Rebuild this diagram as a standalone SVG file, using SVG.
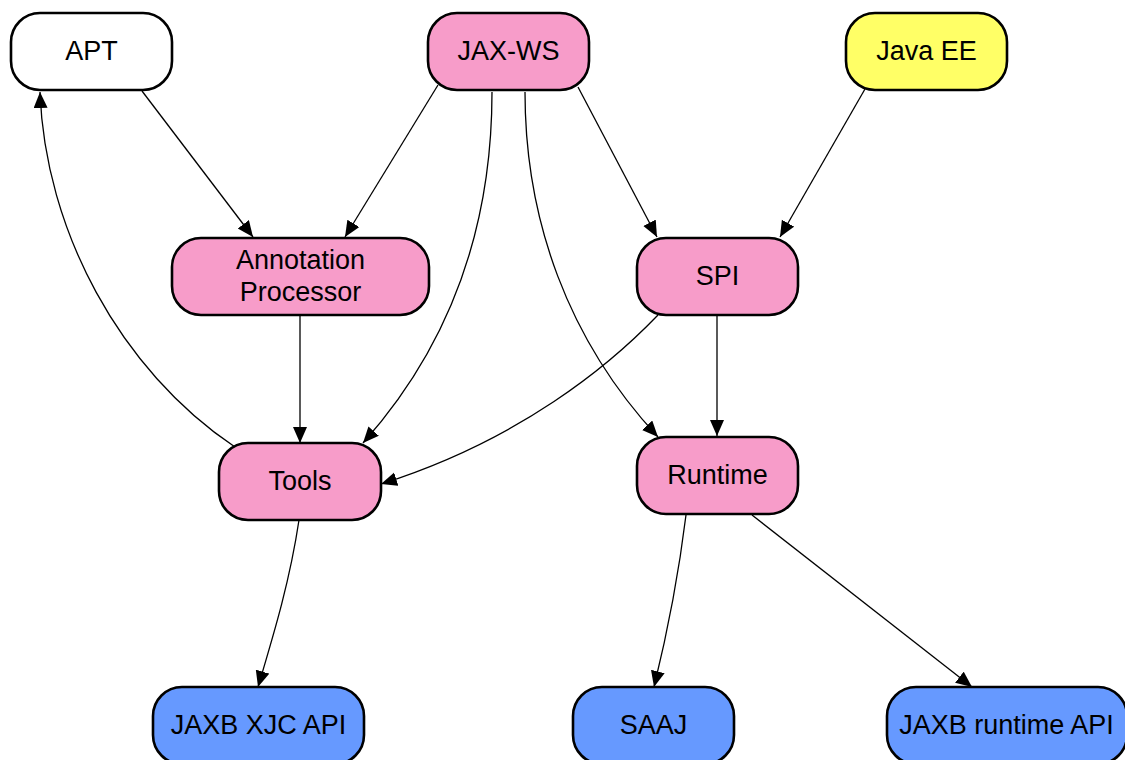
<svg xmlns="http://www.w3.org/2000/svg" width="1125" height="760" viewBox="0 0 1125 760">
<style>
.n rect{stroke:#000;stroke-width:2.6}
.w{fill:#fff}.p{fill:#F79CC9}.y{fill:#FFFF66}.b{fill:#6699FF}
text{font-family:"Liberation Sans",Arial,sans-serif;font-size:27px;fill:#000;text-anchor:middle}
.e path{fill:none;stroke:#000;stroke-width:1.3;marker-end:url(#a)}
</style>
<defs>
<marker id="a" markerUnits="userSpaceOnUse" markerWidth="17" markerHeight="15" refX="16" refY="7" orient="auto">
<path d="M0,0 L16,7 L0,14 Z" fill="#000"/>
</marker>
</defs>
<rect width="1125" height="760" fill="#fff"/>
<g class="e">
<path d="M142,91 L253,237"/>
<path d="M438,85 L345,237"/>
<path d="M492,92 C492,220 455,340 363,443"/>
<path d="M525,92 C525,220 568,340 658,437"/>
<path d="M578,87 L657,237"/>
<path d="M865,89 L780,237"/>
<path d="M300,315 L300,443"/>
<path d="M658,315 C610,365 520,440 381,484"/>
<path d="M717,315 L717,436"/>
<path d="M235,447 C120,370 45,230 40,92"/>
<path d="M299,520 C290,580 275,630 258,687"/>
<path d="M686,515 C678,580 668,630 654,687"/>
<path d="M752,515 L972,687"/>
</g>
<g id="apt" class="n"><rect class="w" x="11" y="13" width="161" height="77" rx="29"/><text x="91.5" y="60">APT</text></g>
<g id="jaxws" class="n"><rect class="p" x="428" y="13" width="161" height="77" rx="29"/><text x="508.5" y="60">JAX-WS</text></g>
<g id="javaee" class="n"><rect class="y" x="846" y="13" width="161" height="77" rx="29"/><text x="926.5" y="60">Java EE</text></g>
<g id="annotation" class="n"><rect class="p" x="172" y="238" width="257" height="77" rx="29"/><text x="300.5" y="269">Annotation</text><text x="300.5" y="301">Processor</text></g>
<g id="spi" class="n"><rect class="p" x="637" y="238" width="161" height="77" rx="29"/><text x="717.5" y="285">SPI</text></g>
<g id="tools" class="n"><rect class="p" x="219" y="443" width="162" height="77" rx="29"/><text x="300" y="490">Tools</text></g>
<g id="runtime" class="n"><rect class="p" x="637" y="437" width="161" height="77" rx="29"/><text x="717.5" y="484">Runtime</text></g>
<g id="xjc" class="n"><rect class="b" x="153" y="687" width="211" height="77" rx="29"/><text x="258.5" y="734">JAXB XJC API</text></g>
<g id="saaj" class="n"><rect class="b" x="573" y="687" width="161" height="77" rx="29"/><text x="653.5" y="734">SAAJ</text></g>
<g id="jaxbrt" class="n"><rect class="b" x="887" y="687" width="240" height="77" rx="29"/><text x="1006.5" y="734">JAXB runtime API</text></g>
</svg>
